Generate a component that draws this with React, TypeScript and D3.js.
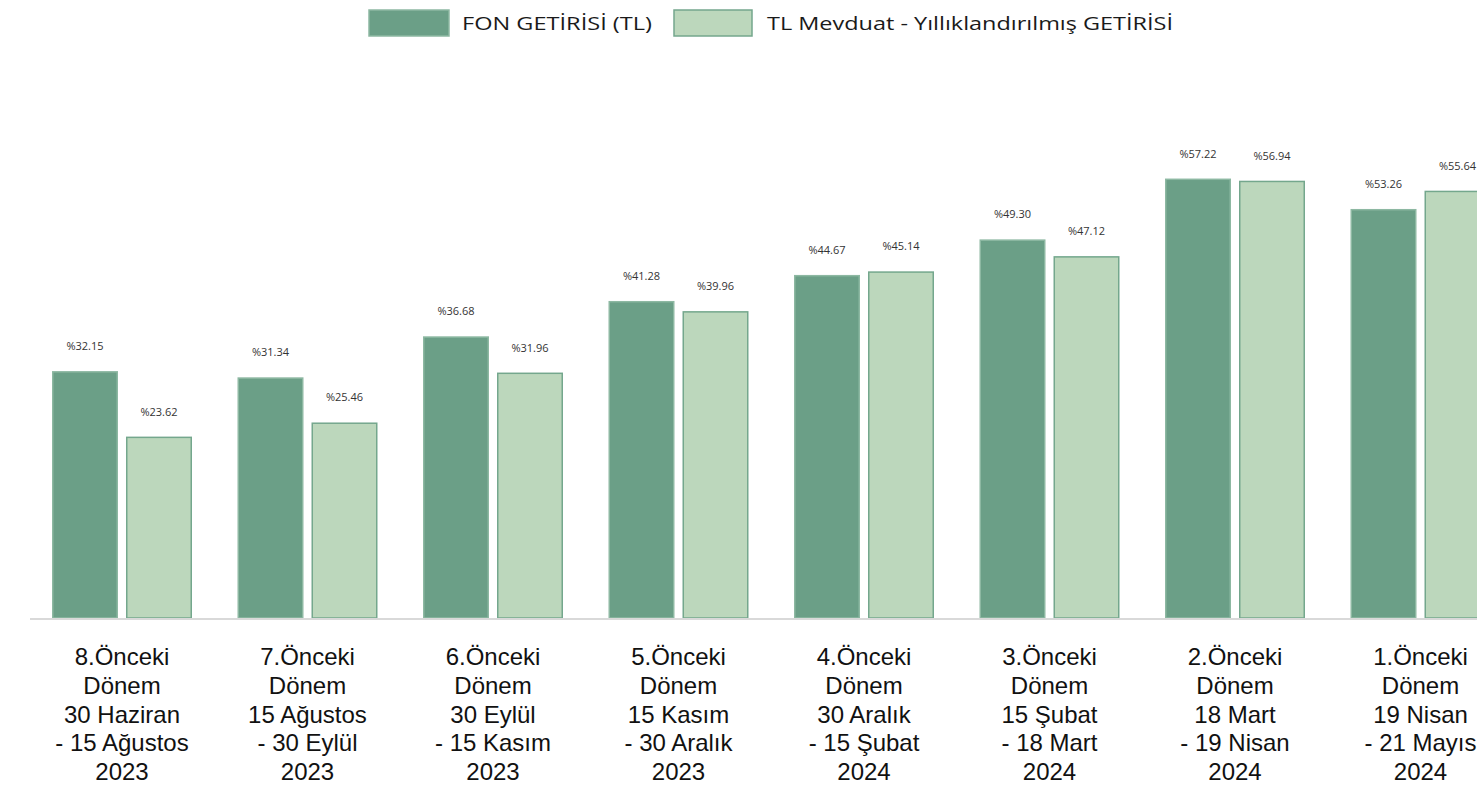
import React from "react";
import * as d3 from "d3";

const categories: string[][] = [
  ["8.Önceki", "Dönem", "30 Haziran", "- 15 Ağustos", "2023"],
  ["7.Önceki", "Dönem", "15 Ağustos", "- 30 Eylül", "2023"],
  ["6.Önceki", "Dönem", "30 Eylül", "- 15 Kasım", "2023"],
  ["5.Önceki", "Dönem", "15 Kasım", "- 30 Aralık", "2023"],
  ["4.Önceki", "Dönem", "30 Aralık", "- 15 Şubat", "2024"],
  ["3.Önceki", "Dönem", "15 Şubat", "- 18 Mart", "2024"],
  ["2.Önceki", "Dönem", "18 Mart", "- 19 Nisan", "2024"],
  ["1.Önceki", "Dönem", "19 Nisan", "- 21 Mayıs", "2024"],
];
const seriesNames = ["FON GETİRİSİ (TL)", "TL Mevduat - Yıllıklandırılmış GETİRİSİ"];
const fonValues = [32.15, 31.34, 36.68, 41.28, 44.67, 49.3, 57.22, 53.26];
const mevduatValues = [23.62, 25.46, 31.96, 39.96, 45.14, 47.12, 56.94, 55.64];

const fills = ["#6b9f87", "#bcd7bc"];
const strokes = ["#8db8a2", "#74a78d"];

export default function App() {
  const W = 1477, H = 786;
  const keys = categories.map((_, i) => String(i));
  const x0 = d3.scaleBand<string>().domain(keys).range([29.25, 29.25 + 8 * 185.5]).padding(0);
  const x1 = d3.scaleBand<string>().domain(["0", "1"]).range([22.75, 162.75]).paddingInner(8 / 74).paddingOuter(0);
  const y = d3.scaleLinear().domain([0, 60]).range([618, 618 - 60 * 7.68]);
  const series = [fonValues, mevduatValues];

  return (
    <svg width={W} height={H} style={{ position: "absolute", left: 0, top: 0 }}>
      <rect width={W} height={H} fill="#ffffff" />
      {/* legend */}
      <g fontFamily="'Open Sans', sans-serif" fontSize={19} fill="#1a1a1a">
        <rect x={369} y={10} width={80} height={26} fill={fills[0]} stroke={strokes[0]} strokeWidth={1.5} />
        <text x={462} y={30} textLength={190} lengthAdjust="spacingAndGlyphs">{seriesNames[0]}</text>
        <rect x={674} y={10} width={78} height={26} fill={fills[1]} stroke={strokes[1]} strokeWidth={1.5} />
        <text x={767} y={30} textLength={406} lengthAdjust="spacingAndGlyphs">{seriesNames[1]}</text>
      </g>
      {/* bars */}
      {categories.map((_, i) => (
        <g key={i} transform={`translate(${x0(String(i))},0)`}>
          {series.map((vals, s) => {
            const bx = x1(String(s))!;
            const bw = x1.bandwidth();
            const top = y(vals[i]);
            return (
              <g key={s}>
                <rect x={bx + 0.75} y={top + 0.75} width={bw - 1.5} height={y(0) - top - 0.75}
                  fill={fills[s]} stroke={strokes[s]} strokeWidth={1.5} />
                <text x={bx + bw / 2} y={top - 21} textAnchor="middle" fontFamily="'Open Sans', sans-serif"
                  fontSize={11} fill="#333">{"%" + vals[i].toFixed(2)}</text>
              </g>
            );
          })}
        </g>
      ))}
      {/* axis line */}
      <line x1={30} x2={W} y1={y(0) + 1} y2={y(0) + 1} stroke="#d9d9d9" strokeWidth={2} />
      {/* category labels */}
      {categories.map((lines, i) => {
        const cx = x0(String(i))! + x0.bandwidth() / 2;
        return (
          <text key={i} textAnchor="middle" fontFamily="Arial, 'Liberation Sans', Helvetica, sans-serif" fontSize={24} fill="#111">
            {lines.map((l, j) => (
              <tspan key={j} x={cx} y={665 + j * 28.75}>{l}</tspan>
            ))}
          </text>
        );
      })}
    </svg>
  );
}
